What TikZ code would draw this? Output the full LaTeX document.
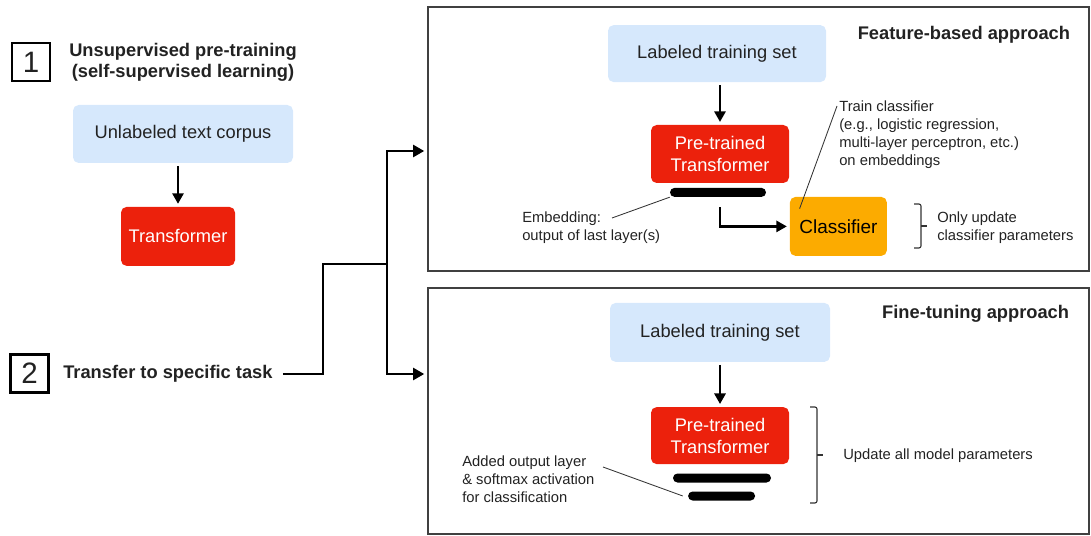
\documentclass[tikz,border=0pt]{standalone}
\usepackage{fontspec}
\setmainfont{Liberation Sans}
\usetikzlibrary{arrows.meta,positioning,calc}

\definecolor{softblue}{RGB}{214,232,252}
\definecolor{trred}{RGB}{236,33,12}
\definecolor{clforange}{RGB}{252,171,0}
\definecolor{inkgray}{RGB}{34,34,34}

\begin{document}
\begin{tikzpicture}[
    every node/.style={text=inkgray},
    bigfont/.style={font=\fontsize{13}{15.6}\selectfont},
    headfont/.style={font=\fontsize{13}{15}\selectfont\bfseries},
    note/.style={font=\fontsize{10.5}{12.8}\selectfont, align=left, inner sep=0pt},
    databox/.style={rounded corners=4pt, fill=softblue, minimum height=1.45cm, bigfont},
    redbox/.style={rounded corners=4pt, fill=trred, text=white, minimum height=1.45cm, bigfont, align=center},
    numbox/.style={draw=black, line width=1.6pt, minimum size=0.95cm, inner sep=0pt, font=\fontsize{21}{21}\selectfont},
    panel/.style={draw=black!75, line width=1.3pt},
    flow/.style={line width=1.6pt, -{Triangle[length=7.5pt,width=8pt]}, shorten >=2pt, shorten <=2pt},
    route/.style={line width=2pt},
    outbar/.style={fill=black, rounded corners=3.2pt, minimum height=0.225cm, inner sep=0pt},
    leader/.style={line width=0.6pt, black!80},
    bracket/.style={line width=0.8pt, black!80, rounded corners=1.5pt},
]
    \useasboundingbox (0,0) rectangle (27.275,-13.4);

    % Step 1: pre-training
    \node[numbox] (one) at (0.775,-1.55) {1};
    \node[headfont, align=center] (pretrain) at (4.575,-1.56) {Unsupervised pre-training\\(self-supervised learning)};
    \node[databox, minimum width=5.5cm] (corpus) at (4.575,-3.35) {Unlabeled text corpus};
    \node[redbox, minimum width=2.85cm, minimum height=1.475cm] (tf) at (4.45,-5.91) {Transformer};
    \draw[flow] (tf.north |- corpus.south) -- (tf.north);

    % Step 2: transfer
    \node[numbox] (two) at (0.74,-9.34) {2};
    \node[headfont, anchor=west, inner sep=0pt] (transfer) at (1.575,-9.35) {Transfer to specific task};
    \coordinate (bend) at (8.075,-6.6);
    \coordinate (split) at (9.675,-6.6);
    \draw[route] ([xshift=0.25cm]transfer.east) -| (bend) -- (split);

    % Panels
    \node[panel, minimum width=16.525cm, minimum height=6.6cm] (feat) at (18.9625,-3.475) {};
    \node[panel, minimum width=16.525cm, minimum height=6.15cm] (fine) at (18.9625,-10.275) {};
    \draw[flow, route, shorten <=0pt, -{Triangle[length=8pt,width=8.5pt]}] (split) |- ([yshift=-0.3cm]feat.west);
    \draw[flow, route, shorten <=0pt, -{Triangle[length=8pt,width=8.5pt]}] (split) |- ([yshift=0.925cm]fine.west);

    % Feature-based approach
    \node[headfont, anchor=east] (feathead) at (26.875,-0.875) {Feature-based approach};
    \node[databox, minimum width=5.45cm, minimum height=1.425cm] (lab1) at (17.925,-1.34) {Labeled training set};
    \node[redbox, minimum width=3.45cm] (pre1) at (18.0,-3.85) {Pre-trained\\Transformer};
    \draw[flow] (lab1.south -| pre1.north) -- (pre1.north);
    \node[outbar, minimum width=2.4cm] (emb1) at (17.95,-4.81) {};
    \node[rounded corners=4pt, fill=clforange, minimum width=2.425cm, minimum height=1.475cm,
          font=\fontsize{13.5}{16}\selectfont, text=black] (clf) at (20.96,-5.66) {Classifier};
    \draw[flow, shorten <=0pt] ([xshift=0.05cm,yshift=-0.25cm]emb1.south) |- (clf.west);

    \node[note, anchor=west] (embnote) at (13.05,-5.69) {Embedding:\\output of last layer(s)};
    \coordinate (embtip) at (15.3,-5.45);
    \draw[leader] (emb1.south west) -- (embtip);

    \node[note, anchor=west] (trainnote) at (20.975,-3.375) {Train classifier\\(e.g., logistic regression,\\multi-layer perceptron, etc.)\\on embeddings};
    \coordinate (traintip) at (20.925,-2.65);
    \draw[leader] ([shift={(0.25,-0.3)}]clf.north west) -- (traintip);

    \draw[bracket] (22.85,-5.1) -| (23.025,-6.2) -- (22.85,-6.2);
    \draw[bracket] (23.025,-5.65) -- (23.175,-5.65);
    \node[note, anchor=west] (onlynote) at (23.425,-5.69) {Only update\\classifier parameters};

    % Fine-tuning approach
    \node[headfont, anchor=east] (finehead) at (26.85,-7.85) {Fine-tuning approach};
    \node[databox, minimum width=5.5cm, minimum height=1.475cm] (lab2) at (18.0,-8.31) {Labeled training set};
    \node[redbox, minimum width=3.45cm, minimum height=1.425cm] (pre2) at (18.0,-10.89) {Pre-trained\\Transformer};
    \draw[flow] (lab2) -- (pre2);
    \node[outbar, minimum width=2.45cm] (out2a) at (18.05,-11.95) {};
    \node[outbar, minimum width=1.675cm] (out2b) at (18.04,-12.4) {};

    \node[note, anchor=west] (addnote) at (11.55,-11.975) {Added output layer\\\& softmax activation\\for classification};
    \coordinate (addtip) at (15.075,-11.675);
    \draw[leader] (addtip) -- ([xshift=-0.125cm]out2b.west);

    \draw[bracket] (20.25,-10.175) -| (20.425,-12.575) -- (20.25,-12.575);
    \draw[bracket] (20.425,-11.375) -- (20.575,-11.375);
    \node[note, anchor=west] (allnote) at (21.075,-11.4) {Update all model parameters};
\end{tikzpicture}
\end{document}
